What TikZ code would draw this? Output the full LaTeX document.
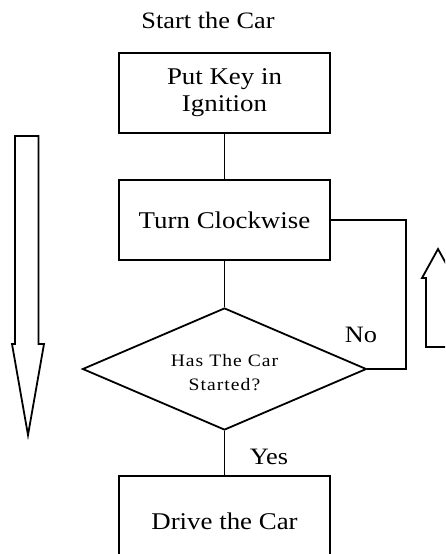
\documentclass[tikz,border=0pt]{standalone}
\usepackage{fontspec}
\setmainfont[FakeStretch=1.12]{Liberation Serif}
\usetikzlibrary{shapes.geometric}

\tikzset{
  stepbox/.style={draw, line width=2pt, minimum width=211pt, minimum height=80pt,
                  inner sep=0pt, align=center, font=\fontsize{24}{27}\selectfont},
  decision/.style={draw, diamond, line width=1.8pt, minimum width=284pt, minimum height=122pt,
                   inner sep=0pt},
  decisiontext/.style={align=center, inner sep=0pt,
                   font=\fontsize{17.5}{24}\selectfont\addfontfeature{LetterSpace=6}},
  link/.style={line width=1.8pt},
  caption/.style={font=\fontsize{23.5}{26}\selectfont, inner sep=0pt},
  flowarrow/.style={draw, line width=1.8pt, fill=white}
}

\begin{document}
\begin{tikzpicture}[x=1pt, y=-1pt]
  \useasboundingbox (0,0) rectangle (445,554);
  \clip (0,0) rectangle (445,554);

  % title
  \node[caption] (title) at (208,20) {Start the Car};

  % flowchart steps
  \node[stepbox] (key)   at (224.5,93)  {Put Key in\\Ignition};
  \node[stepbox] (turn)  at (224.5,220) {Turn Clockwise};
  \node[decision, label={[decisiontext, name=checktext, yshift=-4pt]center:{Has The Car\\Started?}}]
       (check) at (224.5,369) {};
  \node[stepbox, minimum height=90pt] (drive) at (224.5,521) {Drive the Car};

  % connectors
  \draw[link] (key.south) -- (turn.north);
  \draw[link] (turn.south) -- (check.north);
  \draw[link] (check.south) -- (drive.north);
  \coordinate (loop) at (406,369);
  \draw[link] (check.east) -- (loop) |- (turn.east);

  % branch labels
  \node[caption] (no)  at (361,335) {No};
  \node[caption] (yes) at (269,457) {Yes};

  % block arrow pointing down (left side)
  \draw[flowarrow] (15,136) -- (38.5,136) -- (38.5,344) -- (44,344) -- (28,435)
                   -- (12,344) -- (15,344) -- cycle;

  % block arrow pointing up (right side)
  \draw[flowarrow] (426,347) -- (426,278) -- (422,278) -- (438,249) -- (454,278)
                   -- (450,278) -- (450,347) -- cycle;
\end{tikzpicture}
\end{document}
